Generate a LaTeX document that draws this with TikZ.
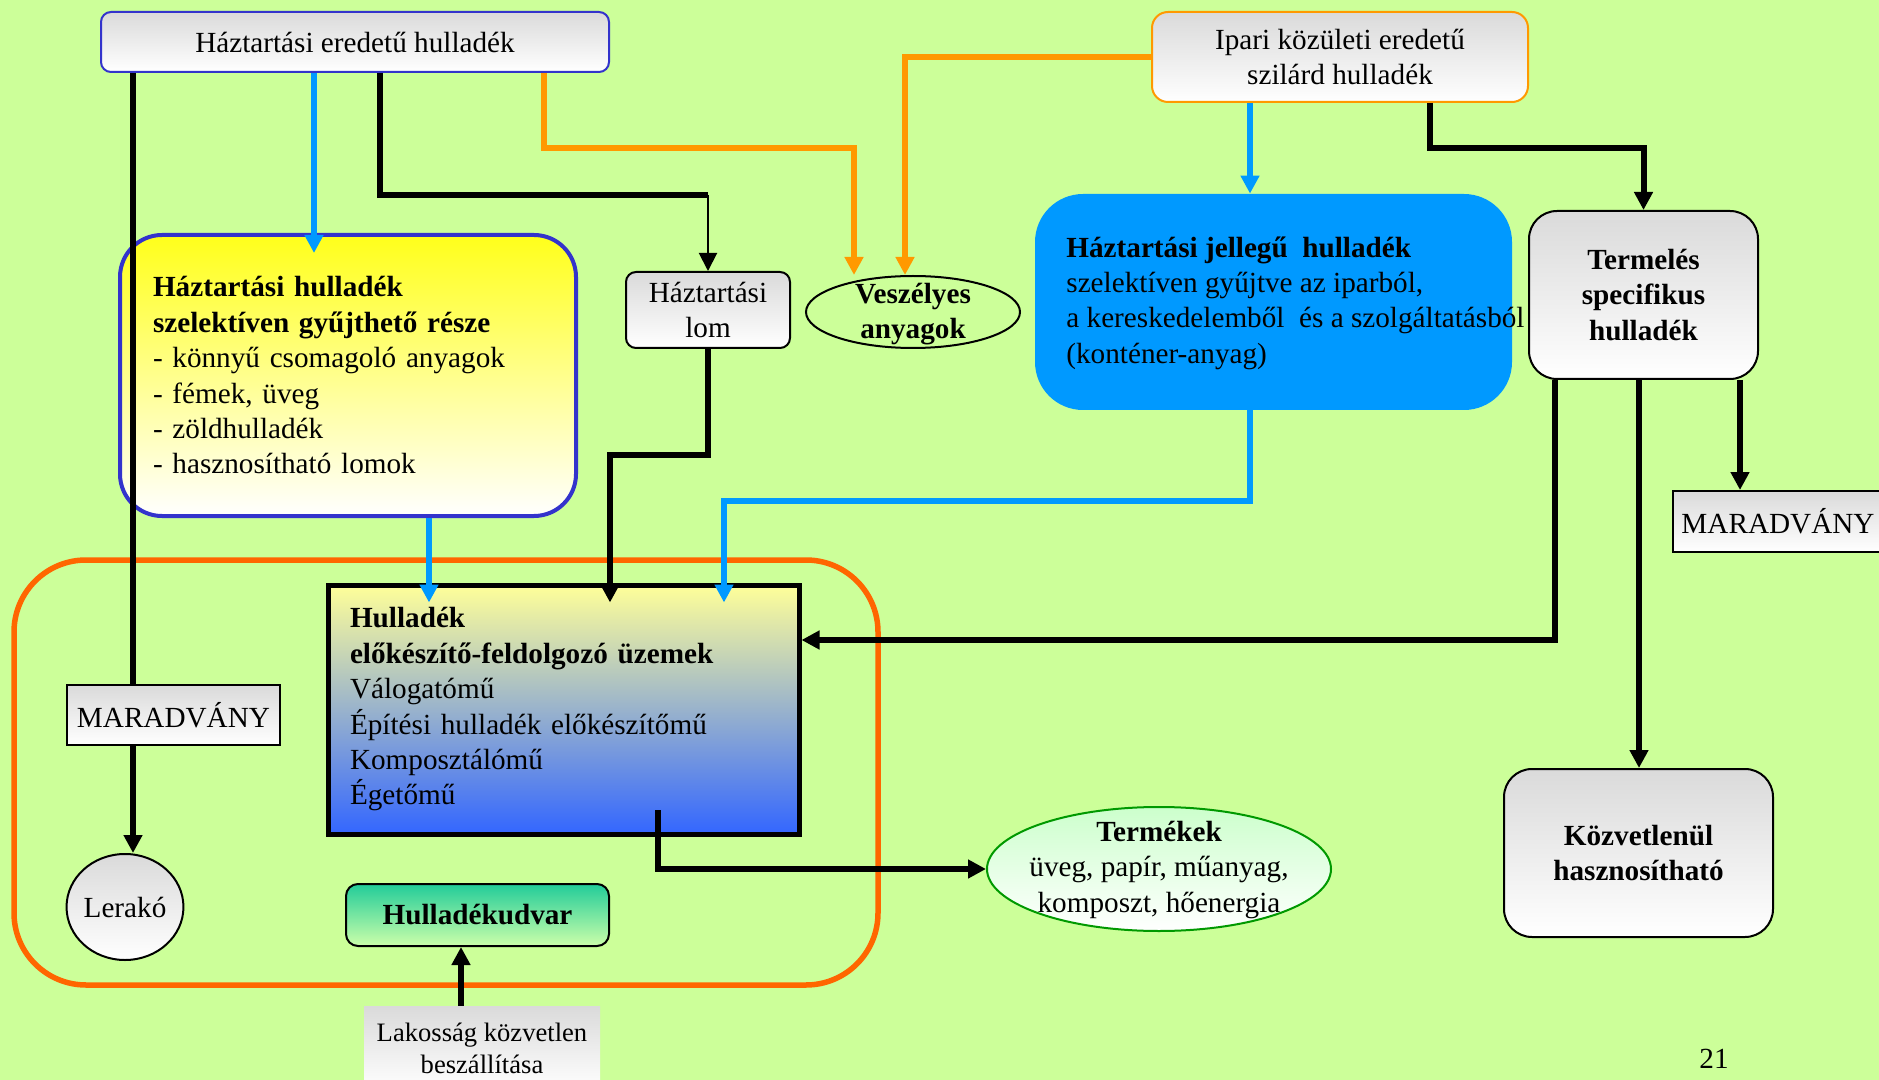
\documentclass[tikz,border=0pt]{standalone}
\usepackage{fontspec}
\setmainfont{Liberation Serif}
\usetikzlibrary{arrows.meta,shapes.geometric}
\definecolor{bgc}{RGB}{204,255,153}
\definecolor{grayt}{RGB}{218,218,218}
\definecolor{boxblue}{RGB}{51,51,204}
\definecolor{lineblue}{RGB}{0,153,255}
\definecolor{lineorange}{RGB}{255,153,0}
\definecolor{zoneorange}{RGB}{255,102,0}
\definecolor{yellowtop}{RGB}{255,255,26}
\definecolor{proctop}{RGB}{255,255,153}
\definecolor{procbot}{RGB}{51,102,255}
\definecolor{tealtop}{RGB}{34,204,153}
\definecolor{tealbot}{RGB}{204,255,170}
\definecolor{prodtop}{RGB}{204,255,204}
\definecolor{prodline}{RGB}{0,153,0}
\definecolor{bluefill}{RGB}{0,153,255}
\newcommand\basefont{\fontsize{14.6}{17.7}\selectfont}
\newcommand\smallfnt{\fontsize{13.3}{16}\selectfont}
\begin{document}
\begin{tikzpicture}[x=0.5pt,y=-0.5pt,font=\basefont,
  graybox/.style={draw=black,line width=1pt,top color=grayt,bottom color=white},
  arr/.style={-{Triangle[length=9pt,width=9pt]}},
  blk/.style={draw=black,line width=3pt},
  thn/.style={draw=black,line width=1pt},
  bll/.style={draw=lineblue,line width=3pt},
  orl/.style={draw=lineorange,line width=3pt},
  boldtxt/.style={font=\basefont\bfseries}]
\clip (0,0) rectangle (1879,1080);
\fill[bgc] (0,0) rectangle (1879,1080);

% zone
\node[draw=zoneorange,line width=2.75pt,rounded corners=36pt,minimum width=432pt,minimum height=212.5pt] (zone) at (446,772.5) {};

% nodes
\node[graybox,draw=boxblue,rounded corners=5pt,minimum width=254pt,minimum height=30pt] (top) at (355,42) {Háztartási eredetű hulladék};
\node[graybox,draw=lineorange,rounded corners=8pt,minimum width=188pt,minimum height=45pt,align=center] (ipari) at (1340,57) {Ipari közületi eredetű\\szilárd hulladék};
\node[draw=boxblue,line width=2pt,rounded corners=21pt,top color=yellowtop,bottom color=white,minimum width=228pt,minimum height=140.5pt,text width=195pt,align=left,inner sep=0pt] (yel) at (348,375.5) {\textbf{Háztartási hulladék}\\\textbf{szelektíven gyűjthető része}\\- könnyű csomagoló anyagok\\- fémek, üveg\\- zöldhulladék\\- hasznosítható lomok};
\node[graybox,rounded corners=5pt,minimum width=82pt,minimum height=38pt,align=center,inner sep=1pt] (lom) at (708,310) {Háztartási\\lom};
\node[draw=black,ellipse,line width=1pt,minimum width=107pt,minimum height=36pt,inner sep=0pt] (vesz) at (913,312) {};
\node[boldtxt,align=center,inner sep=0pt] (veszt) at (913,314) {Veszélyes\\anyagok};
\node[fill=bluefill,rounded corners=24pt,minimum width=238.5pt,minimum height=108pt] (blue) at (1273.5,302) {};
\node[anchor=west,align=left,inner sep=0pt] (bluet) at (1066,303) {\textbf{Háztartási jellegű~ hulladék}\\szelektíven gyűjtve az iparból,\\a kereskedelemből~ és a szolgáltatásból\\(konténer-anyag)};
\node[graybox,rounded corners=14pt,minimum width=114.5pt,minimum height=84pt,align=center,boldtxt] (term) at (1643.5,295) {Termelés\\specifikus\\hulladék};
\node[graybox,minimum width=105pt,minimum height=30.5pt] (mright) at (1778,521.5) {MARADVÁNY};
\node[draw=black,line width=2.5pt,top color=proctop,bottom color=procbot,minimum width=235.5pt,minimum height=124.5pt,text width=213.5pt,align=left,inner sep=0pt] (proc) at (563.5,709.5) {\textbf{Hulladék}\\\textbf{előkészítő-feldolgozó üzemek}\\Válogatómű\\Építési hulladék előkészítőmű\\Komposztálómű\\Égetőmű};
\node[graybox,minimum width=106.5pt,minimum height=30pt] (mleft) at (173.5,715) {MARADVÁNY};
\node[graybox,ellipse,minimum width=58pt,minimum height=53pt,inner sep=0pt] (lerako) at (125,907) {Lerakó};
\node[draw=black,line width=1pt,rounded corners=6pt,top color=tealtop,bottom color=tealbot,minimum width=131.5pt,minimum height=31pt,boldtxt] (udvar) at (477.5,915) {Hulladékudvar};
\node[top color=grayt,bottom color=white,minimum width=118pt,minimum height=42pt,align=center,font=\smallfnt] (lak) at (482,1048) {Lakosság közvetlen\\beszállítása};
\node[draw=prodline,ellipse,line width=1pt,top color=prodtop,bottom color=white,minimum width=172pt,minimum height=62pt,inner sep=0pt] (prod) at (1159,869) {};
\node[align=center,inner sep=0pt] (prodt) at (1159,870) {\textbf{Termékek}\\üveg, papír, műanyag,\\komposzt, hőenergia};
\node[graybox,rounded corners=14pt,minimum width=134.5pt,minimum height=84pt,align=center,boldtxt] (kozv) at (1638.5,853) {Közvetlenül\\hasznosítható};
\node (pnum) at (1714,1059) {21};

% coordinates
\coordinate (xa) at (133,0);
\coordinate (xb) at (314,0);
\coordinate (xc) at (380,0);
\coordinate (yc) at (0,195);
\coordinate (xd) at (544,0);
\coordinate (yd) at (0,148);
\coordinate (xd2) at (854,0);
\coordinate (xe) at (905,0);
\coordinate (xf) at (1250,0);
\coordinate (xg) at (1430,0);
\coordinate (yg) at (0,148);
\coordinate (xh) at (610,0);
\coordinate (yh) at (0,455);
\coordinate (xi) at (429,0);
\coordinate (xj) at (724,0);
\coordinate (yj) at (0,501);
\coordinate (xk) at (1555,0);
\coordinate (yk) at (0,640);
\coordinate (xl) at (1639,0);
\coordinate (xm) at (1740,0);
\coordinate (n0) at (658,810);
\coordinate (xo) at (461,0);

% connectors
\draw[blk] (top.south -| xa) -- (mleft.north -| xa);
\draw[blk,arr] (mleft.south -| xa) -- (lerako.north -| xa);
\draw[bll,arr] (top.south -| xb) -- ([yshift=-10pt]yel.north -| xb);
\draw[blk] (top.south -| xc) |- (yc -| lom.north);
\draw[thn,arr] (yc -| lom.north) -- (lom.north);
\draw[orl,arr] (top.south -| xd) |- (yd -| xd2) -- (vesz.north -| xd2);
\draw[orl,arr] (ipari.west) -| (vesz.north -| xe);
\draw[bll,arr] (ipari.south -| xf) -- (blue.north -| xf);
\draw[blk,arr] (ipari.south -| xg) |- (yg -| term.north) -- (term.north);
\draw[blk,arr] (lom.south) |- (yh -| xh) -- ([yshift=-10pt]proc.north -| xh);
\draw[bll,arr] (yel.south -| xi) -- ([yshift=-10pt]proc.north -| xi);
\draw[bll,arr] (blue.south -| xf) |- (yj -| xj) -- ([yshift=-10pt]proc.north -| xj);
\draw[blk,arr] (term.south -| xk) |- (yk -| proc.east);
\draw[blk,arr] (term.south -| xl) -- (kozv.north -| xl);
\draw[blk,arr] (term.south -| xm) -- (mright.north -| xm);
\draw[blk,arr] (n0) |- (prod.west);
\draw[blk,arr] (lak.north -| xo) -- (udvar.south -| xo);
\end{tikzpicture}
\end{document}
